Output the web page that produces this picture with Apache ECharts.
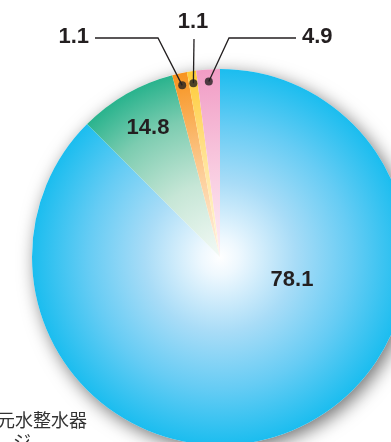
<!DOCTYPE html>
<html>
<head>
<meta charset="utf-8">
<script src="https://cdn.jsdelivr.net/npm/echarts@6/dist/echarts.min.js"></script>
<style>
  html, body { margin: 0; padding: 0; background: #fff; }
  #chart { width: 391px; height: 442px; }
</style>
</head>
<body>
<div id="chart"></div>
<script>
// printed figures on the original chart
const sliceKeys = ['blue', 'green', 'orange', 'yellow', 'pink'];
const printedValues = [78.1, 14.8, 1.1, 1.1, 4.9];
// the original does not draw its slices in proportion to the printed figures,
// so the angular shares are read off the picture separately
const drawnShares = [87.5, 8.41, 1.28, 0.78, 2.03];
const outsideKeys = ['orange', 'yellow', 'pink'];

const cx = 220, cy = 257, R = 188;
const total = drawnShares.reduce((a, b) => a + b, 0);

const palette = {
  blue:   [[0, '#ffffff'], [0.1, '#eef8fe'], [0.4, '#a8dcf7'], [0.7, '#66ccf4'], [1, '#1bbdef']],
  green:  [[0, '#f4faf6'], [0.4, '#c6e6d6'], [0.75, '#7cccb0'], [1, '#29b38d']],
  orange: [[0, '#fff4e8'], [0.5, '#fcc98f'], [1, '#f7931e']],
  yellow: [[0, '#fff9e2'], [0.5, '#ffe49a'], [1, '#ffcb36']],
  pink:   [[0, '#fdf0f6'], [0.5, '#f8c8de'], [1, '#f19cc5']]
};

function radial(key) {
  return {
    type: 'radial', x: cx, y: cy, r: R, global: true,
    colorStops: palette[key].map(s => ({ offset: s[0], color: s[1] }))
  };
}

// where each label sits (label text anchor, line bend, line end)
const labelSpots = {
  blue:   { x: 292, y: 280, align: 'center' },
  green:  { x: 148, y: 128, align: 'center' },
  orange: { x: 89,  y: 37,  align: 'right',  bend: [158, 38], end: [95, 38] },
  yellow: { x: 193, y: 22,  align: 'center', bend: [194, 39], end: [194, 39] },
  pink:   { x: 302, y: 37,  align: 'left',   bend: [229, 38], end: [296, 38] }
};

const pieData = sliceKeys.map((k, i) => ({
  name: k,
  value: drawnShares[i],
  itemStyle: { color: radial(k) }
}));

// same slices again, transparent, carrying the labels so the lines sit on top
const labelData = sliceKeys.map((k, i) => ({
  name: k,
  value: drawnShares[i],
  printed: printedValues[i],
  labelLine: { show: outsideKeys.includes(k) }
}));

// dots sit on each small slice's mid angle, near the rim
let acc = 0;
const dotData = [];
sliceKeys.forEach((k, i) => {
  const mid = acc + drawnShares[i] / 2;
  acc += drawnShares[i];
  if (outsideKeys.includes(k)) dotData.push([0.935, mid]);
});

const chart = echarts.init(document.getElementById('chart'));

const option = {
  animation: false,
  polar: { center: [cx, cy], radius: R },
  angleAxis: { type: 'value', min: 0, max: total, startAngle: 90, clockwise: true, show: false },
  radiusAxis: { type: 'value', min: 0, max: 1, show: false },
  graphic: [
    {
      type: 'text', left: -3, top: 411, z: 10,
      style: { text: '元水整水器', font: '18px "Noto Sans CJK JP"', fill: '#333' }
    },
    {
      type: 'text', left: 13, top: 432, z: 10,
      style: { text: 'ジ', font: '18px "Noto Sans CJK JP"', fill: '#333' }
    }
  ],
  series: [
    {
      // shadow disc behind the slices
      type: 'pie',
      silent: true,
      z: 1,
      center: [cx, cy],
      radius: R,
      label: { show: false },
      labelLine: { show: false },
      itemStyle: {
        color: '#ffffff',
        shadowBlur: 18,
        shadowColor: 'rgba(0,0,0,0.55)',
        shadowOffsetX: 4,
        shadowOffsetY: 5
      },
      data: [{ value: 1, name: 'disc' }]
    },
    {
      type: 'pie',
      z: 2,
      silent: true,
      center: [cx, cy],
      radius: R,
      startAngle: 90,
      clockwise: true,
      itemStyle: { borderWidth: 0 },
      label: { show: false },
      labelLine: { show: false },
      data: pieData
    },
    {
      type: 'pie',
      z: 3,
      silent: true,
      center: [cx, cy],
      radius: R,
      startAngle: 90,
      clockwise: true,
      avoidLabelOverlap: false,
      itemStyle: { color: 'rgba(0,0,0,0)', borderWidth: 0 },
      label: {
        show: true,
        formatter: p => p.data.printed.toFixed(1),
        fontFamily: '"Liberation Sans", Arial, sans-serif',
        fontWeight: 'bold',
        fontSize: 22,
        color: '#231f20'
      },
      labelLine: {
        showAbove: true,
        lineStyle: { color: '#231f20', width: 1.3 }
      },
      labelLayout: params => {
        const key = sliceKeys[params.dataIndex];
        const spot = labelSpots[key];
        const out = { x: spot.x, y: spot.y, align: spot.align, verticalAlign: 'middle' };
        if (spot.bend && params.labelLinePoints) {
          const p0 = params.labelLinePoints[0];
          const dot = [cx + (p0[0] - cx) * 0.935, cy + (p0[1] - cy) * 0.935];
          out.labelLinePoints = [dot, spot.bend, spot.end];
        }
        return out;
      },
      data: labelData
    },
    {
      type: 'scatter',
      coordinateSystem: 'polar',
      z: 5,
      symbol: 'circle',
      symbolSize: 8,
      silent: true,
      itemStyle: { color: '#231f20' },
      data: dotData
    }
  ]
};

chart.setOption(option);
</script>
</body>
</html>
